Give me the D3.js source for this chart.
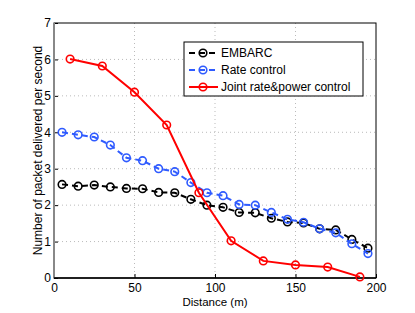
<!DOCTYPE html>
<html><head><meta charset="utf-8">
<script src="https://cdn.jsdelivr.net/npm/d3@7"></script>
<style>body{margin:0;background:#fff}svg{display:block}text{font-family:"Liberation Sans",Arial,sans-serif}</style>
</head><body>
<script>
const embarcX = [5,15,25,35,45,55,65,75,85,95,105,115,125,135,145,155,165,175,185,195];
const embarcY = [2.57,2.52,2.55,2.50,2.46,2.45,2.35,2.34,2.16,2.00,1.94,1.80,1.79,1.64,1.54,1.51,1.35,1.32,1.06,0.82];
const rateX = [5,15,25,35,45,55,65,75,85,95,105,115,125,135,145,155,165,175,185,195];
const rateY = [4.00,3.93,3.87,3.65,3.30,3.22,3.00,2.92,2.62,2.34,2.26,2.02,2.00,1.80,1.61,1.53,1.35,1.24,0.94,0.67];
const jointX = [10,30,50,70,90,110,130,150,170,190];
const jointY = [6.01,5.82,5.10,4.20,2.34,1.02,0.47,0.36,0.30,0.03];
const xTicks = [0,50,100,150,200];
const yTicks = [0,1,2,3,4,5,6,7];
const seriesNames = ["EMBARC","Rate control","Joint rate&power control"];
const colors = ["#000000","#2f5bff","#ff0000"];
const dashes = ["6,4","6,4",null];

const W=415,H=313, L=54,R=376,T=23,B=278;
const svg=d3.select("body").append("svg").attr("width",W).attr("height",H);
const x=d3.scaleLinear().domain([0,200]).range([L,R]);
const y=d3.scaleLinear().domain([0,7]).range([B,T]);

// grid
const g=svg.append("g");
g.selectAll(".gx").data(xTicks.slice(1,-1)).enter().append("line")
 .attr("x1",d=>x(d)).attr("x2",d=>x(d)).attr("y1",T).attr("y2",B)
 .attr("stroke","#bbb").attr("stroke-width",1).attr("stroke-dasharray","1,3");
g.selectAll(".gy").data(yTicks.slice(1,-1)).enter().append("line")
 .attr("y1",d=>y(d)).attr("y2",d=>y(d)).attr("x1",L).attr("x2",R)
 .attr("stroke","#bbb").attr("stroke-width",1).attr("stroke-dasharray","1,3");

// axes
const xa=svg.append("g").attr("transform",`translate(0,${B})`)
 .call(d3.axisBottom(x).tickValues(xTicks).tickFormat(d3.format("d")).tickSizeInner(-4).tickSizeOuter(0).tickPadding(5));
const ya=svg.append("g").attr("transform",`translate(${L},0)`)
 .call(d3.axisLeft(y).tickValues(yTicks).tickFormat(d3.format("d")).tickSizeInner(-4).tickSizeOuter(0).tickPadding(3));
[xa,ya].forEach(a=>{a.select(".domain").remove();a.selectAll("text").attr("font-size",12).attr("fill","#000");a.selectAll("line").attr("stroke","#000");});
// box
svg.append("rect").attr("x",L).attr("y",T).attr("width",R-L).attr("height",B-T)
 .attr("fill","none").attr("stroke","#000").attr("stroke-width",1);
svg.append("line").attr("x1",L).attr("x2",L).attr("y1",T).attr("y2",B).attr("stroke","#888").attr("stroke-width",2);
svg.append("line").attr("x1",L).attr("x2",R).attr("y1",B).attr("y2",B).attr("stroke","#000").attr("stroke-width",1.5);

// series
const series=[[embarcX,embarcY],[rateX,rateY],[jointX,jointY]];
const line=d3.line().x(d=>x(d[0])).y(d=>y(d[1]));
series.forEach((s,i)=>{
  const pts=s[0].map((v,k)=>[v,s[1][k]]);
  svg.append("path").datum(pts).attr("d",line).attr("fill","none")
   .attr("stroke",colors[i]).attr("stroke-width",2).attr("stroke-dasharray",dashes[i]);
  svg.selectAll(null).data(pts).enter().append("circle")
   .attr("cx",d=>x(d[0])).attr("cy",d=>y(d[1])).attr("r",3.8)
   .attr("fill","none").attr("stroke",colors[i]).attr("stroke-width",1.6);
});

// labels
svg.append("text").attr("x",(L+R)/2).attr("y",305.5).attr("text-anchor","middle").attr("font-size",11.5).text("Distance (m)");
svg.append("text").attr("transform",`translate(42,${(T+B)/2}) rotate(-90)`).attr("text-anchor","middle").attr("font-size",12).text("Number of packet delivered per second");

// legend
const lg=svg.append("g");
lg.append("rect").attr("x",184).attr("y",42).attr("width",179).attr("height",54).attr("fill","#fff").attr("stroke","#000").attr("stroke-width",1);
seriesNames.forEach((n,i)=>{
  const yy=53+i*17;
  lg.append("line").attr("x1",189).attr("x2",218).attr("y1",yy).attr("y2",yy)
   .attr("stroke",colors[i]).attr("stroke-width",2).attr("stroke-dasharray",dashes[i]);
  lg.append("circle").attr("cx",203).attr("cy",yy).attr("r",3.8).attr("fill","none").attr("stroke",colors[i]).attr("stroke-width",1.6);
  lg.append("text").attr("x",221).attr("y",yy+4).attr("font-size",12).text(n);
});
</script>
</body></html>
